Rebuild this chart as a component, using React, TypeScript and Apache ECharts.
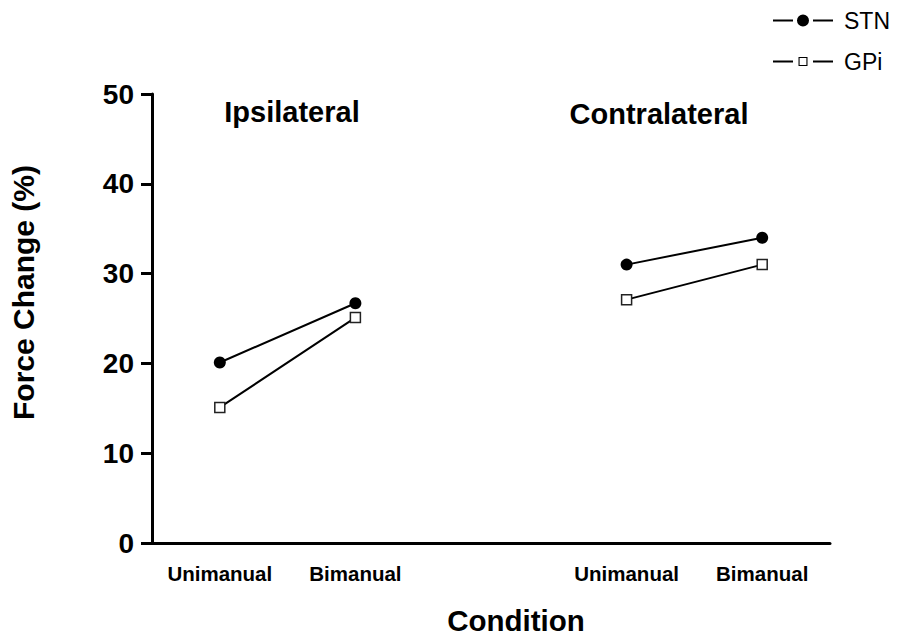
import React, { useEffect, useRef } from "react";
import * as echarts from "echarts";

const categories = ["Unimanual", "Bimanual", "", "Unimanual", "Bimanual"];
const stnValues = [20.1, 26.7, null, 31.0, 34.0];
const gpiValues = [15.1, 25.1, null, 27.1, 31.0];
const yTicks = { min: 0, max: 50, interval: 10 };
const groupLabels = [
  { text: "Ipsilateral", x: 292, y: 112 },
  { text: "Contralateral", x: 659, y: 114 },
];

const FONT = "'Liberation Sans', Arial, Helvetica, sans-serif";

const STN_ICON =
  "path://M0 5H20V7H0Z M40 5H60V7H40Z M24 6A6 6 0 1 0 36 6A6 6 0 1 0 24 6Z";
const GPI_ICON =
  "path://M0 0.001H0.001V0.002H0Z M0 5H20V7H0Z M40 5H60V7H40Z M25.5 1.5H34.5V10.5H25.5Z M26.6 2.6V9.4H33.4V2.6Z M59.999 11.999H60V12H59.999Z";

export default function App() {
  const ref = useRef<HTMLDivElement>(null);
  useEffect(() => {
    if (!ref.current) return;
    const chart = echarts.init(ref.current, null, { renderer: "svg" });
    chart.setOption({
      animation: false,
      backgroundColor: "#ffffff",
      grid: { left: 151, right: 84, top: 94, bottom: 96, containLabel: false },
      legend: {
        orient: "vertical",
        left: 768,
        top: 4,
        itemWidth: 60,
        itemHeight: 12,
        itemGap: 18,
        symbolKeepAspect: false,
        textStyle: { fontFamily: FONT, fontSize: 23, color: "#000", padding: [0, 0, 0, 6] },
        data: [
          {
            name: "STN",
            icon: STN_ICON,
            itemStyle: { color: "#000", borderWidth: 0 },
          },
          {
            name: "GPi",
            icon: GPI_ICON,
            itemStyle: { color: "#000", borderWidth: 0 },
          },
        ],
      },
      xAxis: {
        type: "category",
        data: categories,
        boundaryGap: true,
        name: "Condition",
        nameLocation: "middle",
        nameGap: 62,
        nameTextStyle: {
          fontFamily: FONT,
          fontSize: 29.5,
          fontWeight: "bold",
          color: "#000",
          padding: [0, 0, 0, 50],
        },
        axisLine: { lineStyle: { color: "#000", width: 3 } },
        axisTick: {
          alignWithLabel: true,
          length: 10,
          lineStyle: { color: "#000", width: 3 },
          interval: (index: number) => index !== 2,
        },
        axisLabel: {
          interval: 0,
          margin: 20,
          fontFamily: FONT,
          fontSize: 20.5,
          fontWeight: "bold",
          color: "#000",
        },
        splitLine: { show: false },
      },
      yAxis: {
        type: "value",
        min: yTicks.min,
        max: yTicks.max,
        interval: yTicks.interval,
        name: "Force Change (%)",
        nameLocation: "middle",
        nameRotate: 90,
        nameGap: 114,
        nameTextStyle: {
          fontFamily: FONT,
          fontSize: 30,
          fontWeight: "bold",
          color: "#000",
          padding: [0, 0, 0, 52],
        },
        axisLine: { show: true, lineStyle: { color: "#000", width: 3 } },
        axisTick: { show: true, length: 11, lineStyle: { color: "#000", width: 3 } },
        axisLabel: {
          margin: 18,
          fontFamily: FONT,
          fontSize: 28,
          fontWeight: "bold",
          color: "#000",
        },
        splitLine: { show: false },
      },
      graphic: groupLabels.map((g) => ({
        type: "text",
        x: g.x,
        y: g.y,
        style: {
          text: g.text,
          x: 0,
          y: 0,
          align: "center",
          verticalAlign: "middle",
          font: `bold 29px ${FONT}`,
          fill: "#000",
        },
      })),
      series: [
        {
          name: "STN",
          type: "line",
          data: stnValues,
          connectNulls: false,
          symbol: "circle",
          symbolSize: 12,
          lineStyle: { color: "#000", width: 2 },
          itemStyle: { color: "#000", borderColor: "#000", borderWidth: 0 },
          z: 3,
        },
        {
          name: "GPi",
          type: "line",
          data: gpiValues,
          connectNulls: false,
          symbol: "rect",
          symbolSize: 10,
          lineStyle: { color: "#000", width: 2 },
          itemStyle: { color: "#fff", borderColor: "#222", borderWidth: 1.5 },
          z: 3,
        },
      ],
    });
    return () => chart.dispose();
  }, []);
  return (
    <div
      ref={ref}
      style={{ position: "fixed", left: 0, top: 0, width: 914, height: 640 }}
    />
  );
}
